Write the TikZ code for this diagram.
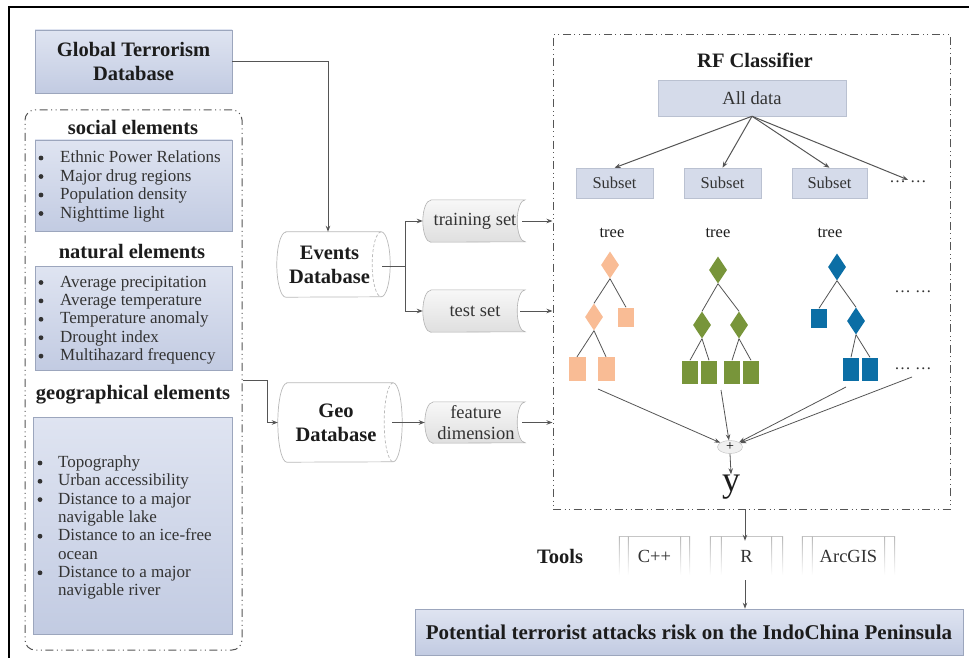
\documentclass[tikz,border=0pt]{standalone}
\usepackage{fontspec}
\setmainfont{Liberation Serif}
\usetikzlibrary{arrows.meta,shapes.geometric}
\definecolor{boxtop}{HTML}{DFE4F1}
\definecolor{boxbot}{HTML}{C2CBE2}
\definecolor{boxline}{HTML}{9CA6BD}
\definecolor{flatbox}{HTML}{D5DBEA}
\definecolor{orangeT}{HTML}{F9BC95}
\definecolor{greenT}{HTML}{78953A}
\definecolor{blueT}{HTML}{0B6EA5}
\definecolor{linec}{HTML}{555555}
\definecolor{txt}{HTML}{1C1C1C}
\definecolor{itemtxt}{HTML}{333333}
\newcommand\titlefnt{\fontsize{20.5}{24}\selectfont\bfseries}
\newcommand\itemfnt{\fontsize{17}{18.3}\selectfont}
\newcommand\setfnt{\fontsize{18.5}{21}\selectfont}
\newcommand\smallfnt{\fontsize{16.5}{18}\selectfont}
\newcommand\mycyl[3]{%
  \draw[cylline, fill=white] ([xshift=#2]#1.north west) -- ([xshift=-#2]#1.north east)
    arc[start angle=90,end angle=-90,x radius=#2,y radius=#3]
    -- ([xshift=#2]#1.south west)
    arc[start angle=270,end angle=90,x radius=#2,y radius=#3] -- cycle;
  \draw[cylline, densely dashed] ([xshift=-#2]#1.north east)
    arc[start angle=90,end angle=270,x radius=#2,y radius=#3];}
\newcommand\mystored[3]{%
  \draw[sdline] ([xshift=#2]#1.north west) -- (#1.north east)
    arc[start angle=90,end angle=270,x radius=#2,y radius=#3]
    -- ([xshift=#2]#1.south west)
    arc[start angle=270,end angle=90,x radius=#2,y radius=#3] -- cycle;}
\newcommand\mytool[2]{%
  \draw[gray!45, line width=0.8pt] (#1.north west) -- (#1.north east);
  \foreach \dx in {0,#2} {
    \shade[top color=gray!55, bottom color=white] ([xshift=\dx pt]#1.north west) rectangle ([xshift=\dx pt+0.9pt]#1.south west);
    \shade[top color=gray!55, bottom color=white] ([xshift=-\dx pt-0.9pt]#1.north east) rectangle ([xshift=-\dx pt]#1.south east);
  }}
\tikzset{
  gbox/.style={draw=boxline, line width=0.6pt, top color=boxtop, bottom color=boxbot},
  fbox/.style={draw=boxline!70, line width=0.5pt, fill=flatbox},
  conn/.style={draw=linec, line width=1pt, -{Stealth[length=6pt,width=4.5pt]}},
  thinconn/.style={draw=linec, line width=0.8pt, -{Stealth[length=6pt,width=4.5pt]}},
  plainln/.style={draw=linec, line width=1pt},
  treeln/.style={draw=linec, line width=0.8pt},
  ddd/.style={draw=linec, line width=1pt, dash pattern=on 8pt off 3.5pt on 1pt off 3.5pt on 1pt off 3.5pt},
  cylline/.style={draw=gray!55, line width=0.7pt},
  sdline/.style={draw=gray!60, line width=0.6pt, top color=gray!6, bottom color=gray!25},
  holder/.style={inner sep=0pt, draw=none},
  dia/.style={diamond, inner sep=0pt, minimum width=18pt, minimum height=27pt},
  leaf/.style={rectangle, inner sep=0pt, minimum width=16pt, minimum height=19pt},
  leafb/.style={rectangle, inner sep=0pt, minimum width=16pt, minimum height=23pt},
  itemnode/.style={anchor=base west, inner sep=0pt, font=\itemfnt, text=itemtxt},
  title/.style={font=\titlefnt, text=txt, align=center, inner sep=0pt}
}
\begin{document}
\begin{tikzpicture}[x=1pt,y=1pt]
\useasboundingbox (0,0) rectangle (969,-658);
\fill[white] (0,0) rectangle (969,-658);
\draw[line width=2.5pt, line join=miter] (9,-658) -- (9,-7) -- (969,-7);

% ---------- left column ----------
\node[gbox, minimum width=197pt, minimum height=63pt, title] (gtd) at (133.5,-61.5) {Global Terrorism\\Database};
\node[ddd, rounded corners=10pt, minimum width=217pt, minimum height=540pt, inner sep=0pt] (panel) at (133.5,-380) {};

\node[title] (soc) at (133,-127) {social elements};
\node[gbox, minimum width=197pt, minimum height=91pt] (socbox) at (133.5,-185.5) {};
\foreach \itxt [count=\k] in {Ethnic Power Relations, Major drug regions, Population density, Nighttime light} {
  \fill[itemtxt] (41,{-(157+(\k-1)*18.5)-1}) circle (2.4pt);
  \node[itemnode] (soc\k) at (60,{-(157+(\k-1)*18.5)-5.5}) {\itxt};
}

\node[title] (nat) at (132,-252) {natural elements};
\node[gbox, minimum width=197pt, minimum height=104pt] (natbox) at (133.5,-318) {};
\foreach \itxt [count=\k] in {Average precipitation, Average temperature, Temperature anomaly, Drought index, Multihazard frequency} {
  \fill[itemtxt] (41,{-(281.5+(\k-1)*18.4)-1}) circle (2.4pt);
  \node[itemnode] (nat\k) at (60,{-(281.5+(\k-1)*18.4)-5.5}) {\itxt};
}

\node[title] (geo) at (133,-395) {geographical elements};
\node[gbox, minimum width=199pt, minimum height=217pt] (geobox) at (132.5,-525.5) {};
\foreach \b/\itxt [count=\k] in {1/Topography, 1/Urban accessibility, 1/Distance to a major, 0/navigable lake, 1/Distance to an ice-free, 0/ocean, 1/Distance to a major, 0/navigable river} {
  \ifnum\b=1 \fill[itemtxt] (40,{-(462+(\k-1)*18.3)-1}) circle (2.4pt); \fi
  \node[itemnode] (geo\k) at (58,{-(462+(\k-1)*18.3)-5.5}) {\itxt};
}

% ---------- middle column ----------
\node[holder, minimum width=113pt, minimum height=65pt] (ev) at (333.5,-264.5) {};
\mycyl{ev}{9pt}{32.5pt}
\node[title] (evt) at (329.5,-265) {Events\\Database};

\node[holder, minimum width=124pt, minimum height=79pt] (gdb) at (340,-422.5) {};
\mycyl{gdb}{9pt}{39.5pt}
\node[title] (gdbt) at (336,-422.5) {Geo\\Database};

\node[holder, minimum width=102pt, minimum height=42pt] (train) at (474,-221) {};
\mystored{train}{8pt}{21pt}
\node[font=\setfnt, text=itemtxt, inner sep=0pt] (traint) at (475,-221) {training set};

\node[holder, minimum width=102pt, minimum height=42pt] (test) at (474,-311) {};
\mystored{test}{8pt}{21pt}
\node[font=\setfnt, text=itemtxt, inner sep=0pt] (testt) at (475,-311) {test set};

\node[holder, minimum width=100pt, minimum height=41pt] (feat) at (475,-422.5) {};
\mystored{feat}{8pt}{20.5pt}
\node[font=\setfnt, text=itemtxt, align=center, inner sep=0pt] (featt) at (476,-422.5) {feature\\dimension};

% ---------- RF classifier ----------
\node[ddd, minimum width=397pt, minimum height=474pt, inner sep=0pt] (rf) at (751.5,-272) {};
\node[title] (rft) at (755,-60) {RF Classifier};
\node[fbox, minimum width=188pt, minimum height=36pt, font=\setfnt, text=itemtxt] (all) at (752,-98) {All data};
\node[fbox, minimum width=77pt, minimum height=30pt, font=\smallfnt, text=itemtxt] (s1) at (614.5,-183) {Subset};
\node[fbox, minimum width=77pt, minimum height=30pt, font=\smallfnt, text=itemtxt] (s2) at (722.5,-183) {Subset};
\node[fbox, minimum width=75pt, minimum height=30pt, font=\smallfnt, text=itemtxt] (s3) at (829.5,-183) {Subset};
\node[font=\smallfnt, text=itemtxt, inner sep=1pt] (dots1) at (908,-182) {\dots\ \dots};
\draw[conn] (all.south) -- (s1.north);
\draw[conn] (all.south) -- (s2.north);
\draw[conn] (all.south) -- (s3.north);
\draw[conn] (all.south) -- (dots1.north);

\node[font=\smallfnt, text=txt] (tr1) at (612,-233) {tree};
\node[font=\smallfnt, text=txt] (tr2) at (718,-233) {tree};
\node[font=\smallfnt, text=txt] (tr3) at (830,-233) {tree};

% tree 1
\node[dia, fill=orangeT] (a1) at (610,-265) {};
\node[dia, fill=orangeT] (a2) at (594,-317) {};
\node[leaf, fill=orangeT] (a3) at (626,-317) {};
\node[leafb, fill=orangeT, minimum width=17pt, minimum height=24pt] (a4) at (577,-369) {};
\node[leafb, fill=orangeT, minimum width=17pt, minimum height=24pt] (a5) at (606,-369) {};
\draw[treeln] (a1.south) -- (a2.north);
\draw[treeln] (a1.south) -- (a3.north);
\draw[treeln] (a2.south) -- (a4.north);
\draw[treeln] (a2.south) -- (a5.north);
% tree 2
\node[dia, fill=greenT] (b1) at (718,-270) {};
\node[dia, fill=greenT] (b2) at (702,-325) {};
\node[dia, fill=greenT] (b3) at (739,-325) {};
\node[leafb, fill=greenT] (b4) at (690,-372) {};
\node[leafb, fill=greenT] (b5) at (709,-372) {};
\node[leafb, fill=greenT] (b6) at (732,-372) {};
\node[leafb, fill=greenT] (b7) at (751,-372) {};
\draw[treeln] (b1.south) -- (b2.north);
\draw[treeln] (b1.south) -- (b3.north);
\draw[treeln] (b2.south) -- (b4.north);
\draw[treeln] (b2.south) -- (b5.north);
\draw[treeln] (b3.south) -- (b6.north);
\draw[treeln] (b3.south) -- (b7.north);
% tree 3
\node[dia, fill=blueT] (c1) at (837,-267) {};
\node[leaf, fill=blueT] (c2) at (819,-318) {};
\node[dia, fill=blueT] (c3) at (856,-321) {};
\node[leafb, fill=blueT] (c4) at (851,-369) {};
\node[leafb, fill=blueT] (c5) at (870,-369) {};
\draw[treeln] (c1.south) -- (c2.north);
\draw[treeln] (c1.south) -- (c3.north);
\draw[treeln] (c3.south) -- (c4.north);
\draw[treeln] (c3.south) -- (c5.north);

\node[font=\smallfnt, text=itemtxt] (dots2) at (913,-292) {\dots\ \dots};
\node[font=\smallfnt, text=itemtxt] (dots3) at (913,-369) {\dots\ \dots};

\node[ellipse, draw=gray!50, fill=gray!12, minimum width=25pt, minimum height=13pt, inner sep=0pt, font=\fontsize{14}{14}\selectfont] (plus) at (730,-447) {+};
\coordinate (p1) at (598,-389);
\coordinate (p2) at (721,-390);
\coordinate (p3) at (846,-387);
\coordinate (p4) at (912,-377);
\draw[thinconn] (p1) -- (plus);
\draw[thinconn] (p2) -- (plus);
\draw[thinconn] (p3) -- (plus);
\draw[thinconn] (p4) -- (plus);
\node[anchor=base, inner sep=0pt, font=\fontsize{36}{36}\selectfont, text=txt] (yv) at (731,-491) {y};
\draw[thinconn] (plus.south) -- (yv.north);

% ---------- connectors middle ----------
\draw[conn] (gtd.east) -| ([xshift=-5.5pt]ev.north);
\coordinate (split) at (405,-266);
\draw[plainln] ([xshift=-8pt,yshift=-1.5pt]ev.east) -- (split);
\draw[conn] (split) |- (train.west);
\draw[conn] (split) |- (test.west);
\draw[conn] ([xshift=-3pt]train.east) -- (train.east -| rf.west);
\draw[conn] ([xshift=-5pt]test.east) -- (test.east -| rf.west);
\draw[conn] (panel.east) -- ++(25,0) |- (gdb.west);
\draw[conn] ([xshift=-10pt]gdb.east) -- (feat.west);
\draw[conn] ([xshift=-3pt]feat.east) -- (feat.east -| rf.west);

% ---------- bottom ----------
\node[title] (tools) at (560,-556) {Tools};
\node[holder, minimum width=71pt, minimum height=38pt, font=\setfnt, text=itemtxt] (tc) at (654.5,-556) {C++};
\node[holder, minimum width=73pt, minimum height=38pt, font=\setfnt, text=itemtxt] (tr) at (746.5,-556) {R};
\node[holder, minimum width=93pt, minimum height=38pt, font=\setfnt, text=itemtxt] (ta) at (848.5,-556) {ArcGIS};
\mytool{tc}{9}
\mytool{tr}{11}
\mytool{ta}{10}
\coordinate (rfb) at (745,-509);
\draw[conn] (rfb) -- ([xshift=-1.5pt,yshift=-4pt]tr.north);
\node[gbox, minimum width=548pt, minimum height=46pt, font=\fontsize{21}{24}\selectfont\bfseries, text=txt] (final) at (689,-632) {Potential terrorist attacks risk on the IndoChina Peninsula};
\draw[conn] ([xshift=-1.5pt,yshift=-5pt]tr.south) -- (final.north -| rfb);
\end{tikzpicture}
\end{document}
